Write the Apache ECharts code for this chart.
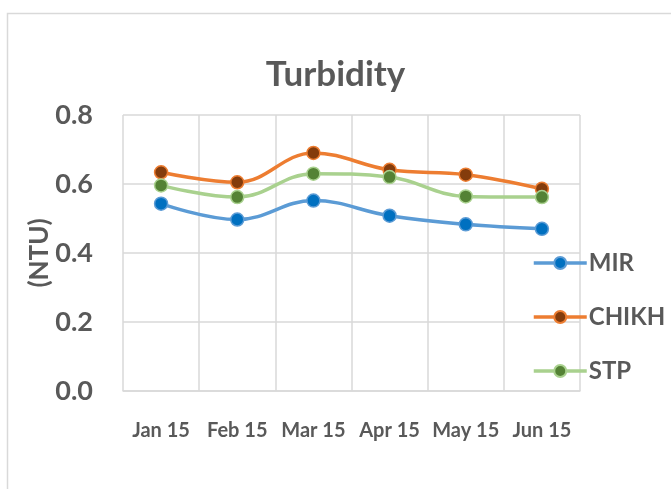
<!DOCTYPE html>
<html>
<head>
<meta charset="utf-8">
<script src="https://cdn.jsdelivr.net/npm/echarts@6/dist/echarts.min.js"></script>
<style>
  html, body { margin: 0; padding: 0; background: #fff; }
  #chart { width: 671px; height: 489px; }
</style>
</head>
<body>
<div id="chart"></div>
<script>
// months on x axis
var months = ['Jan 15', 'Feb 15', 'Mar 15', 'Apr 15', 'May 15', 'Jun 15'];

// turbidity (NTU) per site
var mir = [0.543, 0.497, 0.552, 0.508, 0.483, 0.470];
var chikh = [0.634, 0.605, 0.690, 0.641, 0.627, 0.586];
var stp = [0.596, 0.562, 0.630, 0.620, 0.564, 0.562];

var yTicks = [0, 0.2, 0.4, 0.6, 0.8];

var font = 'Lato';
var txt = '#595959';

function line(name, data, lineColor, dotColor) {
    return {
        name: name,
        type: 'line',
        smooth: 0.4,
        data: data,
        symbol: 'circle',
        symbolSize: 13,
        lineStyle: { color: lineColor, width: 3.5 },
        itemStyle: { color: dotColor, borderColor: lineColor, borderWidth: 1.5 }
    };
}

var chart = echarts.init(document.getElementById('chart'));
chart.setOption({
    animation: false,
    graphic: [{
        type: 'rect',
        shape: { x: 7.5, y: 13.5, width: 700, height: 500 },
        style: { fill: 'none', stroke: '#d9d9d9', lineWidth: 1.5 },
        silent: true
    }],
    title: {
        text: 'Turbidity',
        left: 'center',
        top: 52,
        textStyle: { fontFamily: font, fontSize: 35, fontWeight: 'bold', color: txt }
    },
    legend: {
        orient: 'vertical',
        left: 527,
        top: 246,
        itemWidth: 53,
        itemHeight: 15,
        itemGap: 30,
        lineStyle: { width: 3.5 },
        textStyle: { fontFamily: font, fontSize: 24, fontWeight: 'bold', color: txt, padding: [0, 0, 0, -3] },
        data: ['MIR', 'CHIKH', 'STP']
    },
    grid: { left: 123, right: 91, top: 115, bottom: 98 },
    xAxis: {
        type: 'category',
        data: months,
        boundaryGap: true,
        axisLine: { lineStyle: { color: '#d9d9d9', width: 1.5 } },
        axisTick: { show: false },
        splitLine: { show: true, lineStyle: { color: '#d9d9d9', width: 1.5 } },
        axisLabel: { fontFamily: font, fontSize: 20, fontWeight: 'bold', color: txt, margin: 30, interval: 0 }
    },
    yAxis: {
        type: 'value',
        min: 0,
        max: 0.8,
        interval: 0.2,
        name: '(NTU)',
        nameLocation: 'middle',
        nameGap: 70,
        nameRotate: 90,
        nameMoveOverlap: false,
        nameTextStyle: { fontFamily: font, fontSize: 26, fontWeight: 'bold', color: txt },
        axisLine: { show: false },
        axisTick: { show: false },
        splitLine: { lineStyle: { color: '#d9d9d9', width: 1.5 } },
        axisLabel: {
            fontFamily: font, fontSize: 27, fontWeight: 'bold', color: txt, margin: 30,
            formatter: function (v) {
                var i = yTicks.indexOf(Math.round(v * 10) / 10);
                return i >= 0 ? yTicks[i].toFixed(1) : '';
            }
        }
    },
    series: [
        line('MIR', mir, '#5B9BD5', '#0070C0'),
        line('CHIKH', chikh, '#ED7D31', '#843C0C'),
        line('STP', stp, '#A9D18E', '#548235')
    ]
});
</script>
</body>
</html>
